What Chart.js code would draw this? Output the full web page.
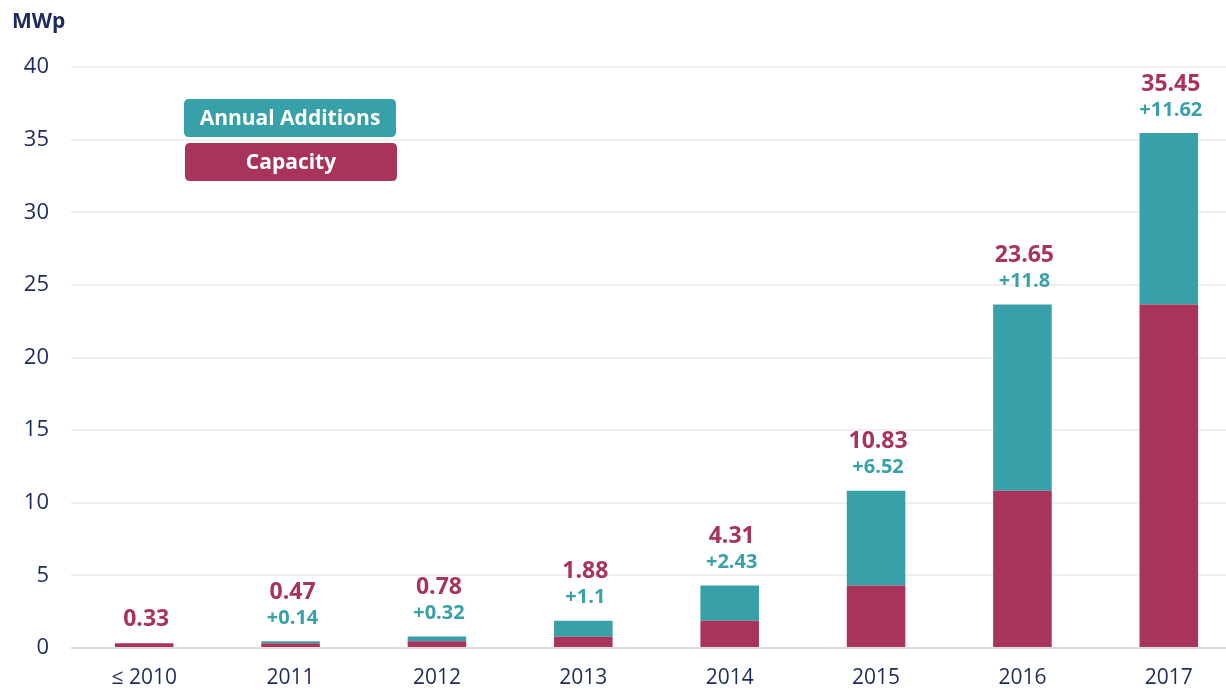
<!DOCTYPE html>
<html>
<head>
<meta charset="utf-8">
<script src="https://cdn.jsdelivr.net/npm/chart.js@4/dist/chart.umd.min.js"></script>
<style>
  html, body { margin: 0; padding: 0; background: #fff; overflow: hidden; }
  #wrap { width: 1242px; height: 690px; }
</style>
</head>
<body>
<div id="wrap"><canvas id="chart" width="1242" height="690"></canvas></div>
<script>
const years = ['\u2264 2010', '2011', '2012', '2013', '2014', '2015', '2016', '2017'];
// bar segments
const capacity = [0.33, 0.33, 0.47, 0.78, 1.88, 4.31, 10.83, 23.65];
const additions = [0, 0.14, 0.32, 1.1, 2.43, 6.52, 12.82, 11.8];
// printed labels
const totalLabels = ['0.33', '0.47', '0.78', '1.88', '4.31', '10.83', '23.65', '35.45'];
const additionLabels = ['', '+0.14', '+0.32', '+1.1', '+2.43', '+6.52', '+11.8', '+11.62'];
const yTicks = [0, 5, 10, 15, 20, 25, 30, 35, 40];

const NAVY = '#1d2b5c';
const CRIMSON = '#a8335b';
const TEAL = '#37a0a8';
const FONT = "'Open Sans', sans-serif";

Chart.defaults.font.family = FONT;

function roundRect(ctx, x, y, w, h, r) {
  ctx.beginPath();
  ctx.moveTo(x + r, y);
  ctx.lineTo(x + w - r, y);
  ctx.quadraticCurveTo(x + w, y, x + w, y + r);
  ctx.lineTo(x + w, y + h - r);
  ctx.quadraticCurveTo(x + w, y + h, x + w - r, y + h);
  ctx.lineTo(x + r, y + h);
  ctx.quadraticCurveTo(x, y + h, x, y + h - r);
  ctx.lineTo(x, y + r);
  ctx.quadraticCurveTo(x, y, x + r, y);
  ctx.closePath();
}

const extras = {
  id: 'extras',
  afterDatasetsDraw(chart) {
    const ctx = chart.ctx;
    const capMeta = chart.getDatasetMeta(0);
    const addMeta = chart.getDatasetMeta(1);
    ctx.save();
    ctx.textAlign = 'center';
    ctx.textBaseline = 'middle';
    years.forEach((y, i) => {
      const bar = addMeta.data[i];
      const top = additions[i] > 0 ? bar.y : capMeta.data[i].y;
      const x = bar.x + 2;
      if (additionLabels[i]) {
        ctx.fillStyle = TEAL;
        ctx.font = 'bold 20px ' + FONT;
        ctx.fillText(additionLabels[i], x, top - 23);
        ctx.fillStyle = CRIMSON;
        ctx.font = 'bold 23px ' + FONT;
        ctx.fillText(totalLabels[i], x, top - 49);
      } else {
        ctx.fillStyle = CRIMSON;
        ctx.font = 'bold 23px ' + FONT;
        ctx.fillText(totalLabels[i], x, top - 24);
      }
    });

    // unit title
    ctx.textAlign = 'left';
    ctx.fillStyle = NAVY;
    ctx.font = 'bold 21px ' + FONT;
    ctx.fillText('MWp', 12, 22);

    // legend boxes
    const items = [
      { text: 'Annual Additions', color: TEAL, x: 184, y: 99 },
      { text: 'Capacity', color: CRIMSON, x: 185, y: 143 }
    ];
    items.forEach(it => {
      ctx.fillStyle = it.color;
      roundRect(ctx, it.x, it.y, 212, 38, 5);
      ctx.fill();
      ctx.fillStyle = '#fff';
      ctx.font = 'bold 21px ' + FONT;
      ctx.textAlign = 'center';
      ctx.fillText(it.text, it.x + 106, it.y + 20);
    });
    ctx.restore();
  }
};

new Chart(document.getElementById('chart'), {
  type: 'bar',
  data: {
    labels: years,
    datasets: [
      { label: 'Capacity', data: capacity, backgroundColor: CRIMSON },
      { label: 'Annual Additions', data: additions, backgroundColor: TEAL }
    ]
  },
  options: {
    responsive: false,
    animation: false,
    layout: { padding: { top: 67, left: 0, right: 0, bottom: 0 } },
    datasets: { bar: { categoryPercentage: 1, barPercentage: 0.4 } },
    plugins: { legend: { display: false }, tooltip: { enabled: false } },
    scales: {
      x: {
        stacked: true,
        grid: { display: false },
        border: { display: false },
        ticks: { color: NAVY, font: { size: 21 }, padding: 9 },
        afterFit(scale) { scale.height = 42; }
      },
      y: {
        stacked: true,
        min: 0,
        max: 40,
        afterBuildTicks(scale) { scale.ticks = yTicks.map(v => ({ value: v })); },
        grid: {
          drawTicks: false,
          lineWidth: 2,
          color: c => (c.tick && c.tick.value === 0 ? '#dcdcdc' : '#efefef')
        },
        border: { display: false },
        ticks: { color: NAVY, font: { size: 22 }, padding: 22 },
        afterFit(scale) { scale.width = 71; }
      }
    }
  },
  plugins: [extras]
});
</script>
</body>
</html>
